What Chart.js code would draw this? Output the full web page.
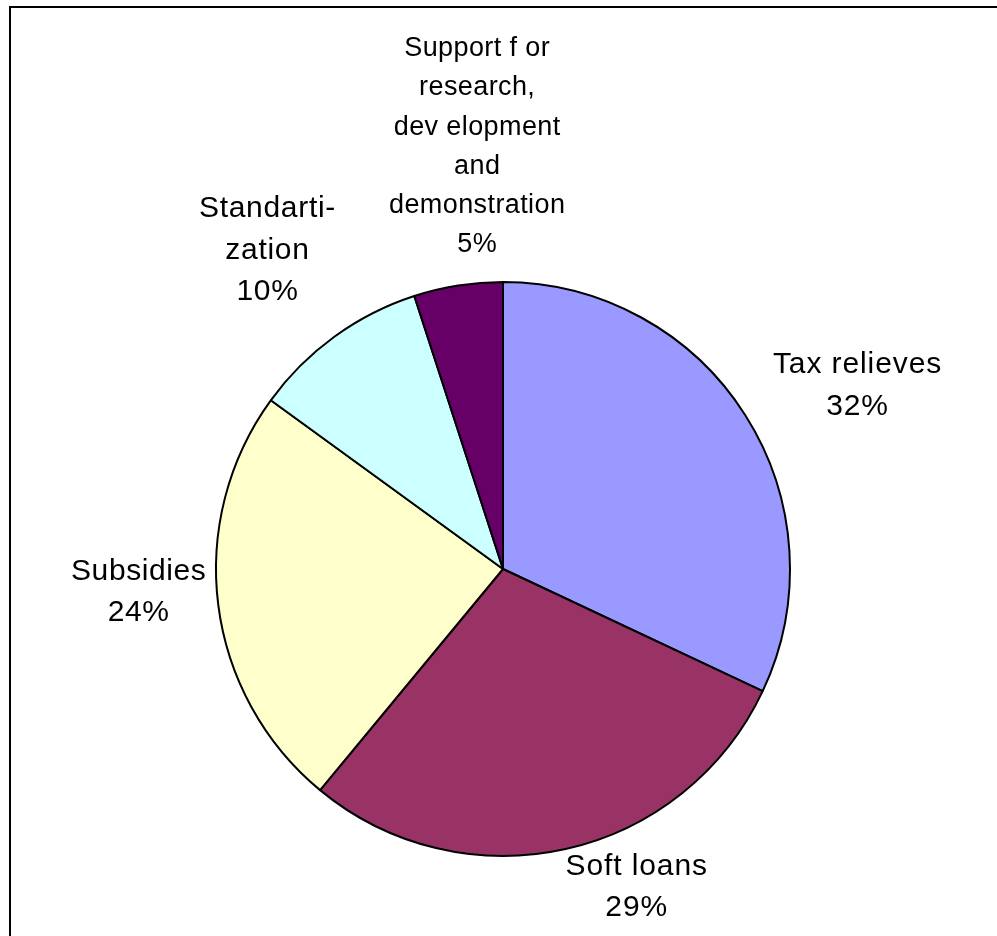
<!DOCTYPE html>
<html>
<head>
<meta charset="utf-8">
<title>Support instruments</title>
<script src="https://cdn.jsdelivr.net/npm/chart.js@4.4.1/dist/chart.umd.min.js"></script>
<style>
  html, body { margin: 0; padding: 0; background: #ffffff; }
  #wrap { position: relative; width: 997px; height: 936px; }
  canvas { display: block; }
</style>
</head>
<body>
<div id="wrap"><canvas id="pie" width="997" height="936"></canvas></div>
<script>
// Share of each support instrument (percent)
const categories = [
  ["Tax relieves"],
  ["Soft loans"],
  ["Subsidies"],
  ["Standarti-", "zation"],
  ["Support f or", "research,", "dev elopment", "and", "demonstration"]
];
const shares = [32, 29, 24, 10, 5];
const sliceColors = ["#9999FF", "#993366", "#FFFFCC", "#CCFFFF", "#660066"];

// Label block layout: angular nudge (deg) from the slice's mid-angle,
// distance (px) of the block centre from the pie centre, text size and leading.
const labelTurn = [5.1, -10.2, 3.6, -0.5, 5.5];
const labelDist = [399, 345, 365, 396, 423];
const labelSize = [30, 30, 30, 30, 27];
const labelLead = [42, 41, 41, 41.5, 39.2];
const labelTrack = [0.9, 0.9, 0.6, 0.7, 0.4];

const framePlugin = {
  id: 'frame',
  beforeDraw(chart) {
    const ctx = chart.ctx;
    ctx.save();
    ctx.fillStyle = '#ffffff';
    ctx.fillRect(0, 0, chart.width, chart.height);
    ctx.strokeStyle = '#000000';
    ctx.lineWidth = 2;
    ctx.strokeRect(10, 7, chart.width + 20, chart.height + 20);
    ctx.restore();
  }
};

const outsideLabels = {
  id: 'outsideLabels',
  afterDatasetsDraw(chart) {
    const ctx = chart.ctx;
    const meta = chart.getDatasetMeta(0);
    const data = chart.data.datasets[0].data;
    const total = data.reduce((a, b) => a + b, 0);
    ctx.save();
    ctx.fillStyle = '#000000';
    ctx.textAlign = 'center';
    ctx.textBaseline = 'middle';
    meta.data.forEach((arc, i) => {
      ctx.font = labelSize[i] + 'px "Liberation Sans", Arial, sans-serif';
      if ('letterSpacing' in ctx) ctx.letterSpacing = labelTrack[i] + 'px';
      const mid = (arc.startAngle + arc.endAngle) / 2 + labelTurn[i] * Math.PI / 180;
      const cx = arc.x + Math.cos(mid) * labelDist[i];
      const cy = arc.y + Math.sin(mid) * labelDist[i];
      const lines = chart.data.labels[i].concat([Math.round(data[i] / total * 100) + '%']);
      const top = cy - (lines.length - 1) * labelLead[i] / 2;
      lines.forEach((t, k) => ctx.fillText(t, cx, top + k * labelLead[i]));
    });
    ctx.restore();
  }
};

new Chart(document.getElementById('pie'), {
  type: 'pie',
  data: {
    labels: categories,
    datasets: [{
      data: shares,
      backgroundColor: sliceColors,
      borderColor: '#000000',
      borderWidth: 2,
      hoverOffset: 0
    }]
  },
  options: {
    responsive: false,
    animation: false,
    radius: 287,
    layout: { padding: { left: 20, right: 11, top: 230, bottom: 28 } },
    plugins: {
      legend: { display: false },
      tooltip: { enabled: false }
    }
  },
  plugins: [framePlugin, outsideLabels]
});
</script>
</body>
</html>
